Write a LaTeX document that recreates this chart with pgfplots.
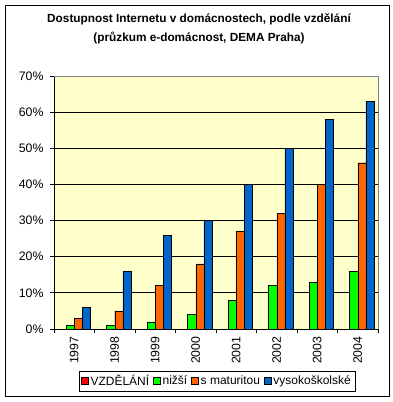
\documentclass[border=0pt]{standalone}
\usepackage{fontspec}
\setmainfont{Liberation Sans}
\usepackage{pgfplots}
\pgfplotsset{compat=1.18}
\definecolor{bgyellow}{HTML}{FFFFCC}
\definecolor{cgreen}{HTML}{00FF00}
\definecolor{corange}{HTML}{FF6600}
\definecolor{cblue}{HTML}{0066CC}
\definecolor{cred}{HTML}{FF0000}
\begin{document}
\begin{tikzpicture}
\useasboundingbox (0pt,0pt) rectangle (393pt,402pt);
\draw[line width=1pt] (5.5pt,5.5pt) rectangle (389pt,396pt);
\node[font=\bfseries\fontsize{11.8}{19}\selectfont, align=center] at (199pt,373pt) {Dostupnost Internetu v domácnostech, podle vzdělání\\(průzkum e-domácnost, DEMA Praha)};
\begin{axis}[
  at={(54pt,73pt)}, anchor=south west,
  scale only axis, width=324pt, height=253pt,
  ybar, bar width=0.2,
  xmin=-0.5, xmax=7.5, ymin=0, ymax=70,
  xtick={0,...,7}, xticklabels={1997,1998,1999,2000,2001,2002,2003,2004},
  major x tick style={draw=none},
  minor xtick={-0.5,0.5,...,7.5},
  ytick={0,10,...,70},
  yticklabel={\pgfmathprintnumber{\tick}\%},
  /pgf/number format/assume math mode=true,
  tick align=outside, major tick length=4pt, minor tick length=4pt,
  tick style={black, line width=0.8pt},
  axis x line*=bottom, axis y line*=left,
  axis line style={-, black, line width=0.8pt},
  axis background/.style={fill=bgyellow},
  ymajorgrids, grid style={black, line width=0.8pt},
  ticklabel style={font=\fontsize{12.3}{14}\selectfont},
  yticklabel style={xshift=-3pt},
  xticklabel style={rotate=90, anchor=east},
  legend style={at={(0.503,-0.2055)}, anchor=center, legend columns=-1,
    draw=black, fill=white, font=\fontsize{12}{14}\selectfont,
    /tikz/every even column/.append style={column sep=2pt}, inner sep=2pt},
  legend image code/.code={\draw[#1, draw=black] (0pt,-3.5pt) rectangle (7pt,3.5pt);},
  after end axis/.code={\draw[gray, line width=0.8pt] (rel axis cs:0,1) -- (rel axis cs:1,1) -- (rel axis cs:1,0);},
]
\addplot[fill=cred, draw=black, bar shift=-0.3] coordinates {(0,0)(1,0)(2,0)(3,0)(4,0)(5,0)(6,0)(7,0)};
\addplot[fill=cgreen, draw=black, bar shift=-0.1] coordinates {(0,1)(1,1)(2,2)(3,4)(4,8)(5,12)(6,13)(7,16)};
\addplot[fill=corange, draw=black, bar shift=0.1] coordinates {(0,3)(1,5)(2,12)(3,18)(4,27)(5,32)(6,40)(7,46)};
\addplot[fill=cblue, draw=black, bar shift=0.3] coordinates {(0,6)(1,16)(2,26)(3,30)(4,40)(5,50)(6,58)(7,63)};
\legend{VZDĚLÁNÍ,nižší,s maturitou,vysokoškolské}
\end{axis}
\end{tikzpicture}
\end{document}
